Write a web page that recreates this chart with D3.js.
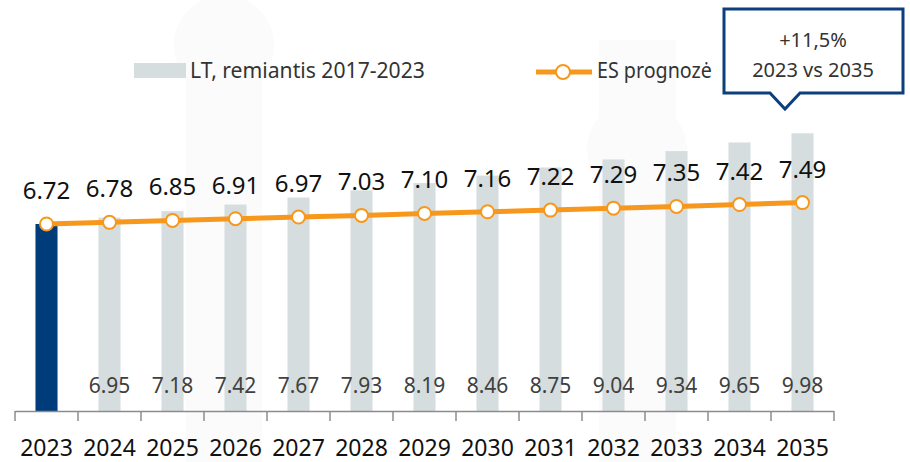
<html>
<head>
<meta charset="utf-8">
<script src="https://d3js.org/d3.v7.min.js"></script>
<style>
body { margin: 0; background: #fff; }
svg text { font-family: "Noto Sans", sans-serif; }
</style>
</head>
<body>
<script>
// data
var years = ["2023","2024","2025","2026","2027","2028","2029","2030","2031","2032","2033","2034","2035"];
var ltValues = [6.72, 6.95, 7.18, 7.42, 7.67, 7.93, 8.19, 8.46, 8.75, 9.04, 9.34, 9.65, 9.98];
var esValues = [6.72, 6.78, 6.85, 6.91, 6.97, 7.03, 7.10, 7.16, 7.22, 7.29, 7.35, 7.42, 7.49];
var legendLabels = ["LT, remiantis 2017-2023", "ES prognozė"];
var calloutLines = ["+11,5%", "2023 vs 2035"];

var w = 910, h = 462;
var base = 411;

var svg = d3.select("body").append("svg").attr("width", w).attr("height", h);

// faint background shapes
var bg = svg.append("g").attr("fill", "#fbfbfc");
bg.append("rect").attr("x", 186).attr("y", 40).attr("width", 76).attr("height", 422);
bg.append("circle").attr("cx", 224).attr("cy", 45).attr("r", 50);
bg.append("rect").attr("x", 599).attr("y", 40).attr("width", 77).attr("height", 422);
bg.append("circle").attr("cx", 637).attr("cy", 150).attr("r", 50);

var x = d3.scaleBand().domain(years).range([15, 834]).paddingInner(0.65).paddingOuter(0.325);
var y = d3.scaleLinear().domain([0, 14.77]).range([base, 0]);

var data = years.map(function(d, i){ return {year: d, lt: ltValues[i], es: esValues[i], i: i}; });

// bars
svg.append("g").selectAll("rect").data(data).enter().append("rect")
  .attr("x", function(d){ return x(d.year); })
  .attr("y", function(d){ return y(d.lt); })
  .attr("width", x.bandwidth())
  .attr("height", function(d){ return base - y(d.lt); })
  .attr("fill", function(d){ return d.i == 0 ? "#003b7a" : "#d5dddf"; });

// bar labels near bottom
svg.append("g").selectAll("text").data(data.slice(1)).enter().append("text")
  .attr("x", function(d){ return x(d.year) + x.bandwidth()/2; })
  .attr("y", 393)
  .attr("text-anchor", "middle")
  .attr("font-size", 21)
  .attr("fill", "#404040")
  .text(function(d){ return d.lt.toFixed(2); });

// axis
var step = x.step();
var ax = svg.append("g").attr("stroke", "#8c8c8c").attr("stroke-width", 1.5);
ax.append("line").attr("x1", 15).attr("x2", 834).attr("y1", base + 0.5).attr("y2", base + 0.5);
var bounds = d3.range(years.length + 1).map(function(i){ return 15 + i * step; });
ax.selectAll("line.t").data(bounds).enter().append("line").attr("class", "t")
  .attr("x1", function(d){ return d; }).attr("x2", function(d){ return d; })
  .attr("y1", base).attr("y2", base + 10);

svg.append("g").selectAll("text").data(years).enter().append("text")
  .attr("x", function(d){ return x(d) + x.bandwidth()/2; })
  .attr("y", 456)
  .attr("text-anchor", "middle")
  .attr("font-size", 23)
  .attr("fill", "#111")
  .text(function(d){ return d; });

// ES line
var line = d3.line().x(function(d){ return x(d.year) + x.bandwidth()/2; }).y(function(d){ return y(d.es); });
svg.append("path").datum(data).attr("d", line)
  .attr("fill", "none").attr("stroke", "#f7981d").attr("stroke-width", 5);
svg.append("g").selectAll("circle").data(data).enter().append("circle")
  .attr("cx", function(d){ return x(d.year) + x.bandwidth()/2; })
  .attr("cy", function(d){ return y(d.es); })
  .attr("r", 6.5)
  .attr("fill", "#fff").attr("stroke", "#f7981d").attr("stroke-width", 2);

svg.append("g").selectAll("text").data(data).enter().append("text")
  .attr("x", function(d){ return x(d.year) + x.bandwidth()/2; })
  .attr("y", function(d){ return y(d.es) - 25; })
  .attr("text-anchor", "middle")
  .attr("font-size", 24)
  .attr("fill", "#111")
  .text(function(d){ return d.es.toFixed(2); });

// legend (text fitted to the width of the original narrow font)
function fitText(g, tx, ty, width, str) {
  var t = g.append("g").attr("transform", "translate(" + tx + "," + ty + ")")
    .append("text").attr("font-size", 21).attr("fill", "#333").text(str);
  var sx = width / t.node().getComputedTextLength();
  t.attr("transform", "scale(" + sx + ",1)");
}
var lg = svg.append("g");
lg.append("rect").attr("x", 134).attr("y", 63).attr("width", 52).attr("height", 15).attr("fill", "#d5dddf");
fitText(lg, 190, 78, 235, legendLabels[0]);
lg.append("line").attr("x1", 536).attr("x2", 592).attr("y1", 72).attr("y2", 72)
  .attr("stroke", "#f7981d").attr("stroke-width", 5);
lg.append("circle").attr("cx", 563).attr("cy", 72).attr("r", 7)
  .attr("fill", "#fff").attr("stroke", "#f7981d").attr("stroke-width", 2);
fitText(lg, 597, 78, 115, legendLabels[1]);

// callout
var co = svg.append("g");
co.append("path")
  .attr("d", "M724,9 H903 V93 H800 L785,109 L770,93 H724 Z")
  .attr("fill", "#fff").attr("stroke", "#0d3f7d").attr("stroke-width", 3).attr("stroke-linejoin", "miter");
co.selectAll("text").data(calloutLines).enter().append("text")
  .attr("x", 813).attr("y", function(d, i){ return 47 + i * 30; })
  .attr("text-anchor", "middle").attr("font-size", 20).attr("fill", "#333")
  .text(function(d){ return d; });
</script>
</body>
</html>
